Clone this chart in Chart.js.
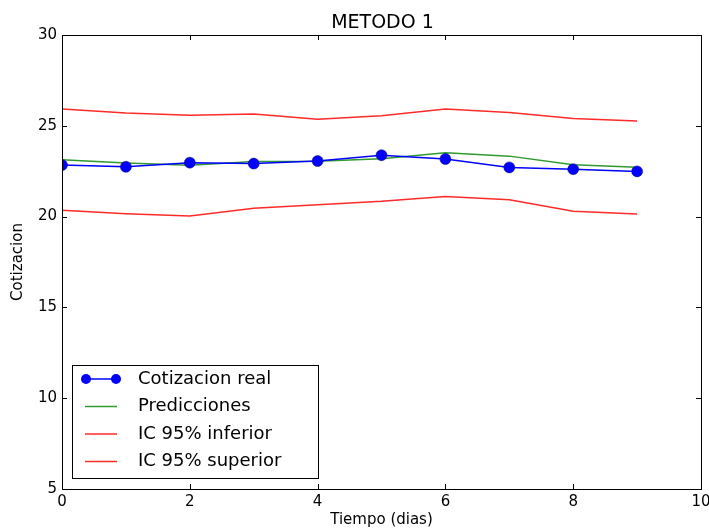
<!DOCTYPE html>
<html>
<head>
<meta charset="utf-8">
<script src="https://cdn.jsdelivr.net/npm/chart.js@4/dist/chart.umd.min.js"></script>
<style>
  html, body { margin: 0; padding: 0; background: #fff; }
  #wrap { width: 709px; height: 529px; }
</style>
</head>
<body>
<div id="wrap"><canvas id="c" width="709" height="529"></canvas></div>
<script>
const dias = [0, 1, 2, 3, 4, 5, 6, 7, 8, 9];
const cotizacionReal = [22.84, 22.74, 22.97, 22.92, 23.06, 23.38, 23.17, 22.71, 22.61, 22.49];
const predicciones = [23.13, 22.95, 22.83, 23.03, 23.05, 23.18, 23.52, 23.33, 22.85, 22.72];
const icInferior = [20.35, 20.16, 20.03, 20.46, 20.65, 20.84, 21.11, 20.93, 20.29, 20.14];
const icSuperior = [25.92, 25.71, 25.58, 25.65, 25.36, 25.55, 25.92, 25.73, 25.40, 25.27];

const FONT = 'DejaVu Sans';

const toPts = arr => dias.map((d, i) => ({x: d, y: arr[i]}));

// matplotlib-style frame with inward ticks on all four sides, plus title
const framePlugin = {
  id: 'frame',
  afterDraw(chart) {
    const ctx = chart.ctx;
    const a = chart.chartArea;
    const xs = chart.scales.x, ys = chart.scales.y;
    ctx.save();
    ctx.strokeStyle = '#000';
    ctx.lineWidth = 1;
    ctx.strokeRect(Math.round(a.left) + 0.5, Math.round(a.top) + 0.5,
      Math.round(a.right - a.left), Math.round(a.bottom - a.top));
    ctx.beginPath();
    xs.ticks.forEach(t => {
      const px = Math.round(xs.getPixelForValue(t.value)) + 0.5;
      ctx.moveTo(px, a.bottom); ctx.lineTo(px, a.bottom - 5);
      ctx.moveTo(px, a.top); ctx.lineTo(px, a.top + 5);
    });
    ys.ticks.forEach(t => {
      const py = Math.round(ys.getPixelForValue(t.value)) + 0.5;
      ctx.moveTo(a.left, py); ctx.lineTo(a.left + 5, py);
      ctx.moveTo(a.right, py); ctx.lineTo(a.right - 5, py);
    });
    ctx.stroke();
    ctx.fillStyle = '#000';
    ctx.font = '19px ' + FONT;
    ctx.textAlign = 'center';
    ctx.textBaseline = 'alphabetic';
    ctx.fillText('METODO 1', (a.left + a.right) / 2 + 1, a.top - 7);
    ctx.restore();
  }
};

// legend box drawn inside the plot area, lower left
const legendPlugin = {
  id: 'innerLegend',
  afterDraw(chart) {
    const ctx = chart.ctx;
    const a = chart.chartArea;
    const x0 = a.left + 10, y0 = a.bottom - 124, w = 246, h = 113;
    ctx.save();
    ctx.fillStyle = '#fff';
    ctx.fillRect(x0, y0, w, h);
    ctx.strokeStyle = '#000';
    ctx.lineWidth = 1;
    ctx.strokeRect(x0 + 0.5, y0 + 0.5, w, h);
    ctx.font = '18px ' + FONT;
    ctx.textBaseline = 'middle';
    ctx.textAlign = 'left';
    chart.data.datasets.forEach((ds, i) => {
      const cy = y0 + 14 + i * 27.5;
      ctx.strokeStyle = ds.borderColor;
      ctx.lineWidth = 1.5;
      ctx.beginPath();
      ctx.moveTo(x0 + 13, cy); ctx.lineTo(x0 + 45, cy);
      ctx.stroke();
      if (ds.pointRadius > 0) {
        ctx.fillStyle = ds.pointBackgroundColor;
        [x0 + 14, x0 + 44].forEach(mx => {
          ctx.beginPath(); ctx.arc(mx, cy, 5, 0, Math.PI * 2); ctx.fill();
        });
      }
      ctx.fillStyle = '#000';
      ctx.fillText(ds.label, x0 + 66, cy);
    });
    ctx.restore();
  }
};

new Chart(document.getElementById('c'), {
  type: 'line',
  data: {
    datasets: [
      {label: 'Cotizacion real', data: toPts(cotizacionReal), borderColor: '#0000ff',
        borderWidth: 1.5, pointRadius: 5.5, pointBackgroundColor: '#0000ff', pointBorderColor: '#000080', pointBorderWidth: 0.5},
      {label: 'Predicciones', data: toPts(predicciones), borderColor: '#2f9a2f', borderWidth: 1.5, pointRadius: 0},
      {label: 'IC 95% inferior', data: toPts(icInferior), borderColor: '#ff2a2a', borderWidth: 1.5, pointRadius: 0},
      {label: 'IC 95% superior', data: toPts(icSuperior), borderColor: '#ff2a2a', borderWidth: 1.5, pointRadius: 0}
    ]
  },
  options: {
    responsive: false,
    animation: false,
    layout: {padding: {left: 0, right: 8, top: 35, bottom: 0}},
    plugins: {legend: {display: false}, tooltip: {enabled: false}, title: {display: false}},
    scales: {
      x: {
        type: 'linear', min: 0, max: 10,
        grid: {display: false, drawTicks: false},
        border: {display: false},
        ticks: {stepSize: 2, padding: 4, color: '#000', font: {family: FONT, size: 15}, maxRotation: 0},
        title: {display: true, text: 'Tiempo (dias)', color: '#000', font: {family: FONT, size: 15}, padding: {top: 0, bottom: 0}},
        afterFit(s) { s.height = 40; s.paddingLeft = 0; s.paddingRight = 0; }
      },
      y: {
        min: 5, max: 30,
        grid: {display: false, drawTicks: false},
        border: {display: false},
        ticks: {stepSize: 5, padding: 5, color: '#000', font: {family: FONT, size: 15}},
        title: {display: true, text: 'Cotizacion', color: '#000', font: {family: FONT, size: 15}, padding: {top: 9, bottom: 0}},
        afterFit(s) { s.width = 62; s.paddingTop = 0; s.paddingBottom = 0; }
      }
    }
  },
  plugins: [framePlugin, legendPlugin]
});
</script>
</body>
</html>
